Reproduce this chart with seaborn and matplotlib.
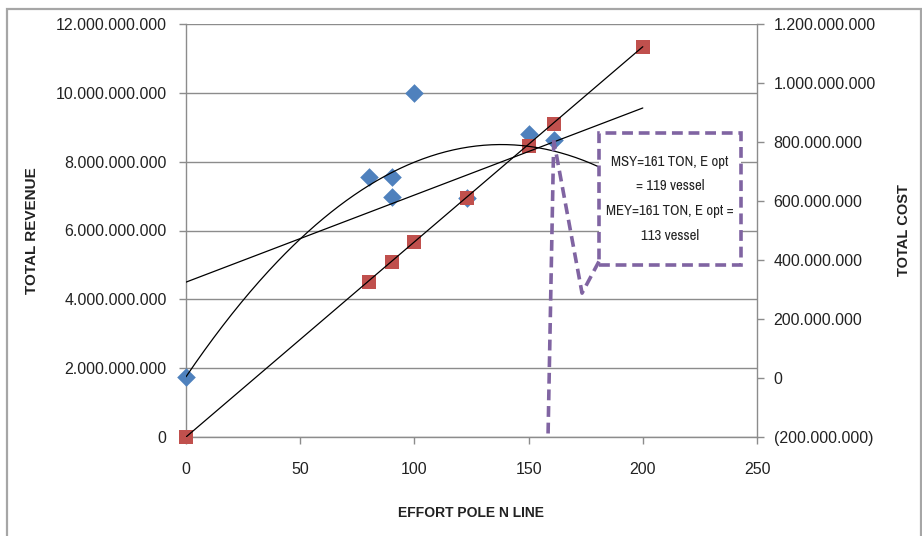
import matplotlib
matplotlib.use("Agg")
import matplotlib.pyplot as plt
import seaborn as sns
import numpy as np
import pandas as pd
from matplotlib import font_manager as fm
from matplotlib.ticker import FuncFormatter
from matplotlib.patches import Rectangle

# Observed revenue (blue diamonds) and cost (red squares) against effort
effort_revenue = [0, 80, 90, 90, 100, 123, 150, 161]
total_revenue = [1.75e9, 7.56e9, 7.56e9, 6.98e9, 10.0e9, 6.95e9, 8.81e9, 8.62e9]
effort_cost = [0, 80, 90, 100, 123, 150, 161, 200]
total_cost = [0, 4.50e9, 5.09e9, 5.67e9, 6.95e9, 8.46e9, 9.10e9, 11.34e9]

# Trendline coefficients
revenue_linear_trend = [4.5e9, 2.53e7]            # intercept, slope
revenue_poly_trend = [1.75e9, 9.78e7, -3.544e5]   # c0, c1, c2
cost_trend_slope = 5.67e7                          # line through the origin
trend_x_range = [0, 200]

left_ticks = [0, 2e9, 4e9, 6e9, 8e9, 10e9, 12e9]
right_ticks = [-200e6, 0, 200e6, 400e6, 600e6, 800e6, 1000e6, 1200e6]
x_ticks = [0, 50, 100, 150, 200, 250]

callout_lines = ["MSY=161 TON, E opt", "= 119 vessel", "MEY=161 TON, E opt =", "113 vessel"]

BLUE = "#4F81BD"
RED = "#C0504D"
PURPLE = "#8064A2"
GRID = "#8c8c8c"
TEXT = "#222222"

sns.set_theme(style="white")
plt.rcParams["font.family"] = ["Liberation Sans", "DejaVu Sans"]

W, H = 922, 536
fig = plt.figure(figsize=(W / 100, H / 100), dpi=100)
ax = fig.add_axes([186 / W, 1 - 437 / H, (757 - 186) / W, (437 - 24) / H])
ax2 = ax.twinx()

rev = pd.DataFrame({"effort": effort_revenue, "revenue": total_revenue})
cost = pd.DataFrame({"effort": effort_cost, "cost": total_cost})

sns.scatterplot(data=rev, x="effort", y="revenue", marker="D", s=90,
                color=BLUE, linewidth=0, ax=ax, zorder=3, clip_on=False)
sns.scatterplot(data=cost, x="effort", y="cost", marker="s", s=100,
                color=RED, linewidth=0, ax=ax, zorder=3, clip_on=False)

xs = np.linspace(trend_x_range[0], trend_x_range[1], 300)
lin = revenue_linear_trend[0] + revenue_linear_trend[1] * xs
poly = revenue_poly_trend[0] + revenue_poly_trend[1] * xs + revenue_poly_trend[2] * xs ** 2
cst = cost_trend_slope * xs
for yv in (lin, poly, cst):
    sns.lineplot(x=xs, y=yv, color="black", linewidth=0.9, ax=ax, zorder=4,
                 estimator=None, sort=False)

ax.set_xlim(0, 250)
ax.set_ylim(0, 12e9)
ax2.set_ylim(-200e6, 1200e6)
ax.set_xticks(x_ticks)
ax.set_yticks(left_ticks)
ax2.set_yticks(right_ticks)


def dotted(v, _pos=None):
    s = f"{abs(v):,.0f}".replace(",", ".")
    return f"({s})" if v < 0 else s


ax.yaxis.set_major_formatter(FuncFormatter(dotted))
ax2.yaxis.set_major_formatter(FuncFormatter(dotted))

ax.yaxis.grid(True, color=GRID, linewidth=1.0)
ax.xaxis.grid(False)
ax.set_axisbelow(True)

ax.spines["top"].set_visible(False)
ax.spines["right"].set_visible(False)
for side in ("top", "left", "bottom"):
    ax2.spines[side].set_visible(False)
for sp in (ax.spines["left"], ax.spines["bottom"], ax2.spines["right"]):
    sp.set_color(GRID)
    sp.set_linewidth(1.0)

ax.tick_params(axis="y", direction="out", length=5, width=1, color=GRID,
               pad=9, labelsize=11.5, labelcolor=TEXT, left=True)
ax.tick_params(axis="x", direction="out", length=5, width=1, color=GRID,
               pad=13, labelsize=11.5, labelcolor=TEXT, bottom=True)
ax2.tick_params(axis="y", direction="out", length=5, width=1, color=GRID,
                pad=7, labelsize=11.5, labelcolor=TEXT, right=True)

ax.set_xlabel("EFFORT POLE N LINE", fontsize=10, fontweight="bold",
              color=TEXT, labelpad=21)
ax.set_ylabel("TOTAL REVENUE", fontsize=11, fontweight="bold", color=TEXT,
              labelpad=12)
ax2.set_ylabel("TOTAL COST", fontsize=10.5, fontweight="bold", color=TEXT,
               labelpad=15)

# Callout box with its leader lines pointing at the last revenue point
dash = (0, (3, 1.6))
box_x0, box_x1 = 180.8, 243.0
box_y0, box_y1 = 5.0e9, 8.84e9
ax.add_patch(Rectangle((box_x0, box_y0), box_x1 - box_x0, box_y1 - box_y0,
                       facecolor="white", edgecolor=PURPLE, linewidth=2.6,
                       linestyle=dash, zorder=6, clip_on=False))
tip_x, tip_y = effort_revenue[-1], total_revenue[-1]
ax.plot([box_x0, 173.4, tip_x], [box_y0 + 0.1e9, 4.18e9, tip_y],
        color=PURPLE, linewidth=2.6, linestyle=dash, zorder=6,
        dash_capstyle="butt")
ax.plot([tip_x, 158.5], [tip_y, 0], color=PURPLE, linewidth=2.6,
        linestyle=dash, zorder=6, dash_capstyle="butt")

# Narrow face for the callout if one is installed
narrow = None
for f in fm.fontManager.ttflist:
    if "Narrow" in f.name or "Condensed" in f.name:
        narrow = dict(family=f.name)
        break
if narrow is None:
    narrow = dict(family="Liberation Sans")

cx, cy = (box_x0 + box_x1) / 2, (box_y0 + box_y1) / 2
pitch_pt = 24.7 * 0.72
texts = []
for i, line in enumerate(callout_lines):
    t = ax.annotate(line, (cx, cy), xytext=(0, (1.5 - i) * pitch_pt),
                    textcoords="offset points", ha="center", va="center",
                    fontsize=10, color=TEXT, zorder=7, **narrow)
    texts.append(t)

# Fit the widest callout line inside the box
fig.canvas.draw()
renderer = fig.canvas.get_renderer()
widest = max(t.get_window_extent(renderer).width for t in texts)
scale = 128.0 / widest
for t in texts:
    t.set_fontsize(10 * scale)

# Chart-area frame
fig.patches.append(Rectangle((7 / W, -0.02), (921 - 7) / W, 1.02 - 9 / H,
                             transform=fig.transFigure, fill=False,
                             edgecolor="#a6a6a6", linewidth=1.6))

fig.savefig("out.png", dpi=100, facecolor="white")
